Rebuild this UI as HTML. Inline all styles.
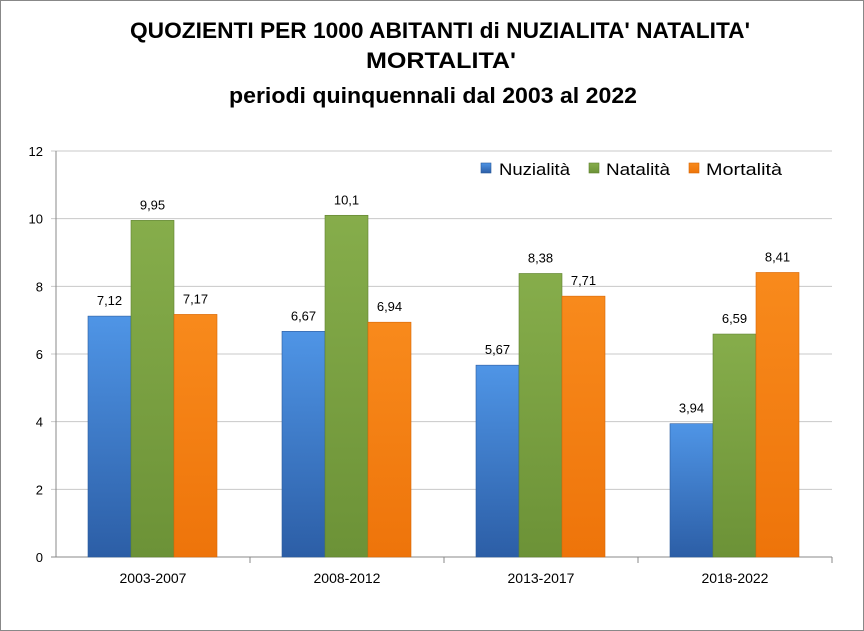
<!DOCTYPE html>
<html><head><meta charset="utf-8"><style>
body{margin:0;background:#fff;}
svg{display:block;font-family:"Liberation Sans",sans-serif;}
</style></head><body>
<svg id="c" width="864" height="631">
<defs>
<linearGradient id="gb" x1="0" y1="0" x2="0" y2="1"><stop offset="0" stop-color="#4f95e6"/><stop offset="1" stop-color="#2c5ea6"/></linearGradient>
<linearGradient id="gg" x1="0" y1="0" x2="0" y2="1"><stop offset="0" stop-color="#86ad4b"/><stop offset="1" stop-color="#6c9237"/></linearGradient>
<linearGradient id="go" x1="0" y1="0" x2="0" y2="1"><stop offset="0" stop-color="#f88a1c"/><stop offset="1" stop-color="#ee740a"/></linearGradient>
</defs>
<rect x="0.5" y="0.5" width="863" height="630" fill="#fff" stroke="#888"/>
<g font-weight="bold" font-size="22" fill="#000">
<text x="130" y="38" textLength="620" lengthAdjust="spacingAndGlyphs">QUOZIENTI PER 1000 ABITANTI di NUZIALITA' NATALITA'</text>
<text x="366" y="68" textLength="150" lengthAdjust="spacingAndGlyphs">MORTALITA'</text>
<text x="229" y="103" textLength="408" lengthAdjust="spacingAndGlyphs">periodi quinquennali dal 2003 al 2022</text>
</g>
<g id="plot"></g>
</svg>
<script>
const categories=["2003-2007","2008-2012","2013-2017","2018-2022"];
const seriesNames=["Nuzialità","Natalità","Mortalità"];
const nuzialita=[7.12,6.67,5.67,3.94];
const natalita=[9.95,10.1,8.38,6.59];
const mortalita=[7.17,6.94,7.71,8.41];
const labelsNuz=["7,12","6,67","5,67","3,94"];
const labelsNat=["9,95","10,1","8,38","6,59"];
const labelsMort=["7,17","6,94","7,71","8,41"];
const yTicks=[0,2,4,6,8,10,12];

const NS="http://www.w3.org/2000/svg";
const g=document.getElementById('plot');
const X0=56,X1=832,Y0=557,Y1=151,YMAX=12;
const y=v=>Y0-(v/YMAX)*(Y0-Y1);
const gw=(X1-X0)/categories.length;
function mk(t,a,p){const e=document.createElementNS(NS,t);for(const k in a)e.setAttribute(k,a[k]);(p||g).appendChild(e);return e;}
yTicks.forEach(t=>{
  const l=mk('line',{x1:X0-5,x2:X1,y1:y(t),y2:y(t),stroke:t===0?'#888':'#c8c8c8'});
  
  
  const tx=mk('text',{x:X0-13,y:y(t)+5,'text-anchor':'end','font-size':13});
  tx.textContent=t;
  
  
});
const ax=mk('line',{x1:X0,x2:X0,y1:Y1,y2:Y0,stroke:'#888'});


const series=[nuzialita,natalita,mortalita],labs=[labelsNuz,labelsNat,labelsMort],fills=['url(#gb)','url(#gg)','url(#go)'],strokes=['#2a5a9c','#5f8030','#d86808'];
categories.forEach((c,i)=>{
  const gx=X0+i*gw;
  const tk=mk('line',{x1:gx+gw,x2:gx+gw,y1:Y0,y2:Y0+6,stroke:'#888'});
  
  
  const ct=mk('text',{x:gx+gw/2,y:Y0+26,'text-anchor':'middle','font-size':14});
  ct.textContent=c;
  
  
  series.forEach((s,j)=>{
    const bx=gx+32+j*43,v=s[i];
    const r=mk('rect',{x:bx,y:y(v),width:43,height:Y0-y(v),fill:fills[j],stroke:strokes[j],'stroke-width':0.6});
    
    
    const lt=mk('text',{x:bx+21.5,y:y(v)-11,'text-anchor':'middle','font-size':13});
    lt.textContent=labs[j][i];
    
    
  });
});
const legX=[481,589,689],legT=[499,606,706],legW=[71,64,76];
seriesNames.forEach((n,j)=>{
  const r=mk('rect',{x:legX[j],y:163,width:10,height:10,fill:fills[j],stroke:strokes[j],'stroke-width':0.6});
  
  
  const t=mk('text',{x:legT[j],y:175,'font-size':17,textLength:legW[j],lengthAdjust:'spacingAndGlyphs'});
  t.textContent=n;
  
  
});
</script>
</body></html>
